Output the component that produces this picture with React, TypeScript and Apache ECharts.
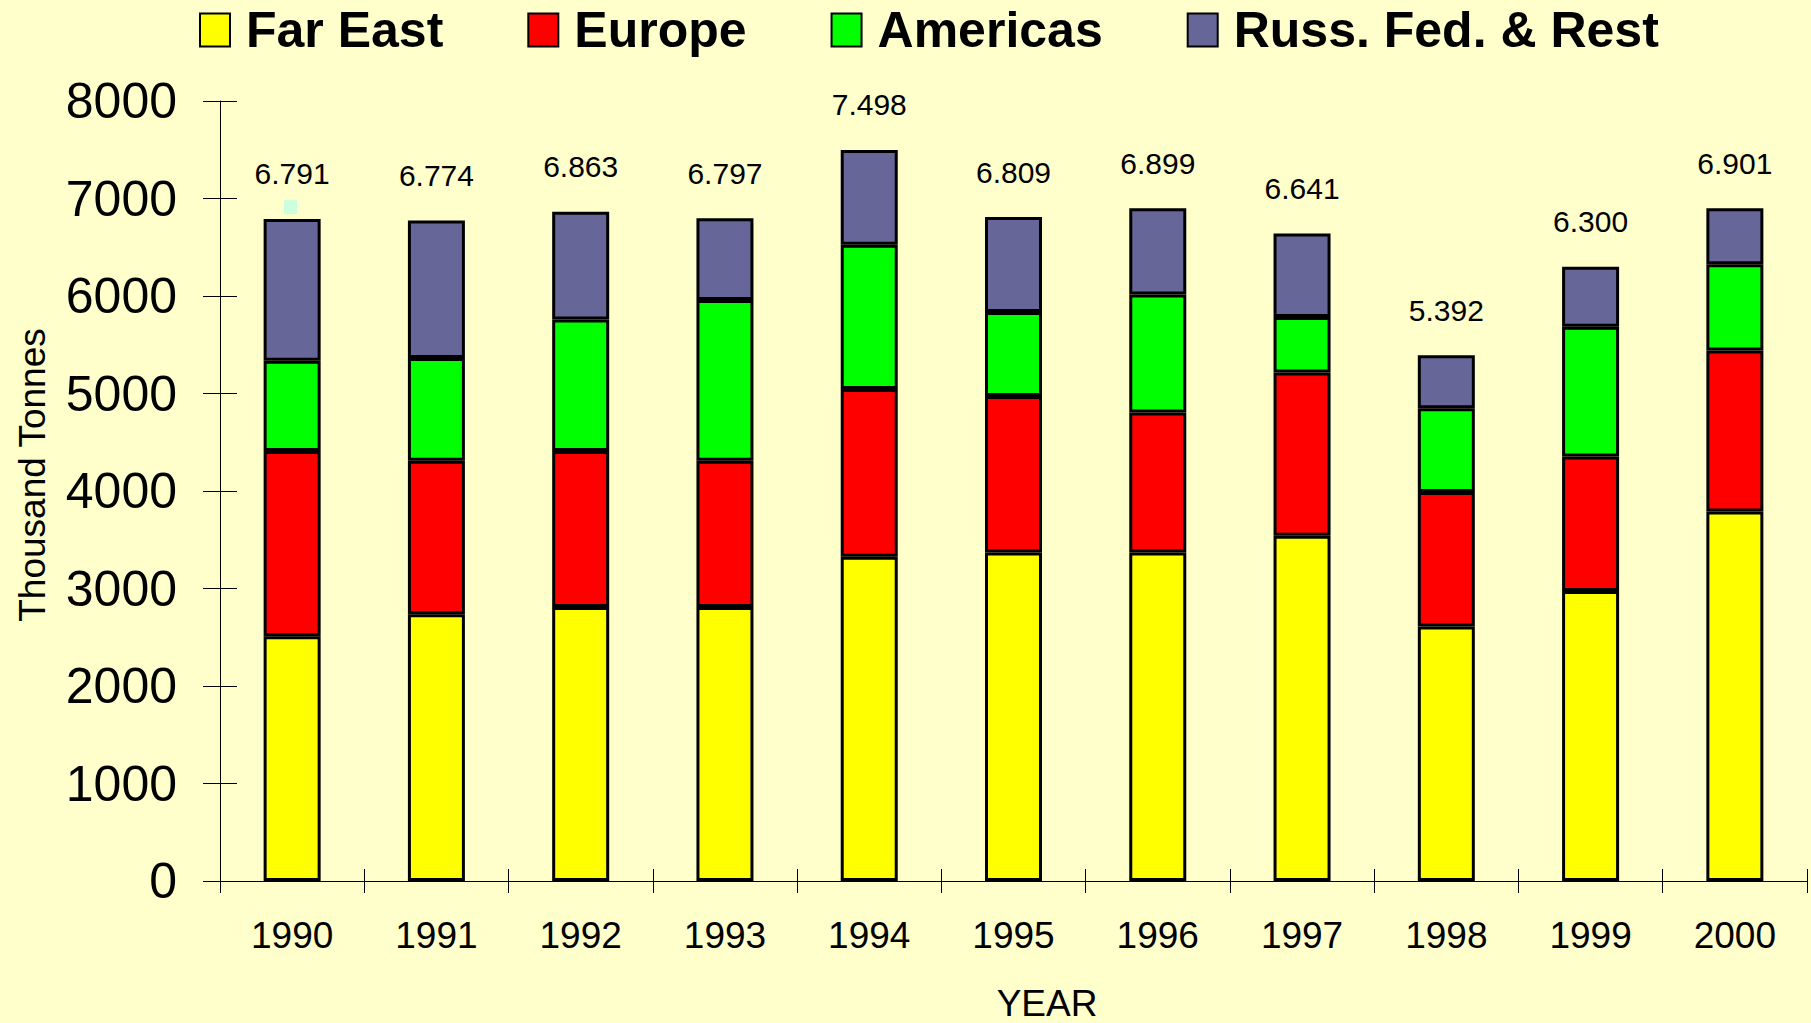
import { useEffect, useRef } from "react";
import * as echarts from "echarts";

const years = ["1990", "1991", "1992", "1993", "1994", "1995", "1996", "1997", "1998", "1999", "2000"];
const farEast = [2510, 2735, 2810, 2810, 3325, 3370, 3370, 3540, 2610, 2975, 3790];
const europe = [1900, 1575, 1600, 1500, 1720, 1605, 1435, 1675, 1380, 1380, 1650];
const americas = [925, 1055, 1350, 1650, 1480, 860, 1210, 570, 860, 1330, 885];
const russRest = [1456, 1409, 1103, 837, 973, 974, 884, 856, 542, 615, 576];
const totals = [6791, 6774, 6863, 6797, 7498, 6809, 6899, 6641, 5392, 6300, 6901];
const totalLabels = ["6.791", "6.774", "6.863", "6.797", "7.498", "6.809", "6.899", "6.641", "5.392", "6.300", "6.901"];
const seriesNames = ["Far East", "Europe", "Americas", "Russ. Fed. & Rest"];
const seriesColors = ["#FFFF00", "#FF0000", "#00FF00", "#666699"];
const yMin = 0;
const yMax = 8000;
const yInterval = 1000;

const FONT = '"Liberation Sans", Arial, Helvetica, sans-serif';

export default function App() {
  const ref = useRef<HTMLDivElement>(null);
  useEffect(() => {
    if (!ref.current) return;
    const chart = echarts.init(ref.current, null, { renderer: "svg" });
    const seriesData = [farEast, europe, americas, russRest];
    const option: any = {
      animation: false,
      backgroundColor: "#FFFFCC",
      textStyle: { fontFamily: FONT, color: "#000" },
      legend: {
        show: true,
        left: 199,
        top: 5,
        padding: 0,
        itemWidth: 30,
        itemHeight: 33,
        itemGap: 84,
        icon: "rect",
        data: seriesNames,
        itemStyle: { borderColor: "#000", borderWidth: 2 },
        textStyle: {
          fontFamily: FONT,
          fontSize: 50,
          fontWeight: "bold",
          color: "#000",
          padding: [0, 0, 0, 11],
        },
      },
      grid: { left: 220, top: 101, width: 1587, height: 780, containLabel: false },
      xAxis: [
        {
          type: "category",
          data: years,
          position: "bottom",
          axisLine: { show: true, lineStyle: { color: "#000", width: 1 } },
          axisTick: { show: true, inside: false, length: 12, lineStyle: { color: "#000", width: 1 } },
          axisLabel: { fontFamily: FONT, fontSize: 37, color: "#000", margin: 36 },
          splitLine: { show: false },
        },
        {
          type: "category",
          data: years,
          position: "bottom",
          axisLine: { show: false },
          axisTick: { show: true, inside: true, length: 12, lineStyle: { color: "#000", width: 1 } },
          axisLabel: { show: false },
          splitLine: { show: false },
        },
      ],
      yAxis: [
        {
          type: "value",
          min: yMin,
          max: yMax,
          interval: yInterval,
          position: "left",
          axisLine: { show: true, lineStyle: { color: "#000", width: 1 } },
          axisTick: { show: true, inside: false, length: 17, lineStyle: { color: "#000", width: 1 } },
          axisLabel: {
            fontFamily: FONT,
            fontSize: 50,
            color: "#000",
            margin: 43,
            formatter: (v: number) => String(v),
          },
          splitLine: { show: false },
        },
        {
          type: "value",
          min: yMin,
          max: yMax,
          interval: yInterval,
          position: "left",
          axisLine: { show: false },
          axisTick: { show: true, inside: true, length: 17, lineStyle: { color: "#000", width: 1 } },
          axisLabel: { show: false },
          splitLine: { show: false },
        },
      ],
      series: seriesNames.map((name, i) => ({
        name,
        type: "bar",
        stack: "total",
        xAxisIndex: 0,
        yAxisIndex: 0,
        barWidth: 57,
        data: seriesData[i],
        itemStyle: { color: seriesColors[i], borderColor: "#000", borderWidth: 3 },
        label:
          i === seriesNames.length - 1
            ? {
                show: true,
                position: "top",
                distance: 30,
                fontFamily: FONT,
                fontSize: 30,
                color: "#000",
                formatter: (p: any) => totalLabels[p.dataIndex],
              }
            : { show: false },
      })),
      graphic: [
        {
          type: "text",
          x: 32,
          y: 475,
          rotation: Math.PI / 2,
          style: {
            text: "Thousand Tonnes",
            fontFamily: FONT,
            fontSize: 37,
            fill: "#000",
            textAlign: "center",
            textVerticalAlign: "middle",
          },
        },
        {
          type: "text",
          x: 1047,
          y: 1003,
          style: {
            text: "YEAR",
            fontFamily: FONT,
            fontSize: 37,
            fill: "#000",
            textAlign: "center",
            textVerticalAlign: "middle",
          },
        },
        {
          type: "rect",
          shape: { x: 284, y: 200, width: 13, height: 14 },
          style: { fill: "#CCFFDD" },
        },
      ],
    };
    chart.setOption(option);
    return () => {
      chart.dispose();
    };
  }, []);
  return (
    <div
      ref={ref}
      style={{ position: "fixed", left: 0, top: 0, width: "1811px", height: "1023px" }}
    />
  );
}
